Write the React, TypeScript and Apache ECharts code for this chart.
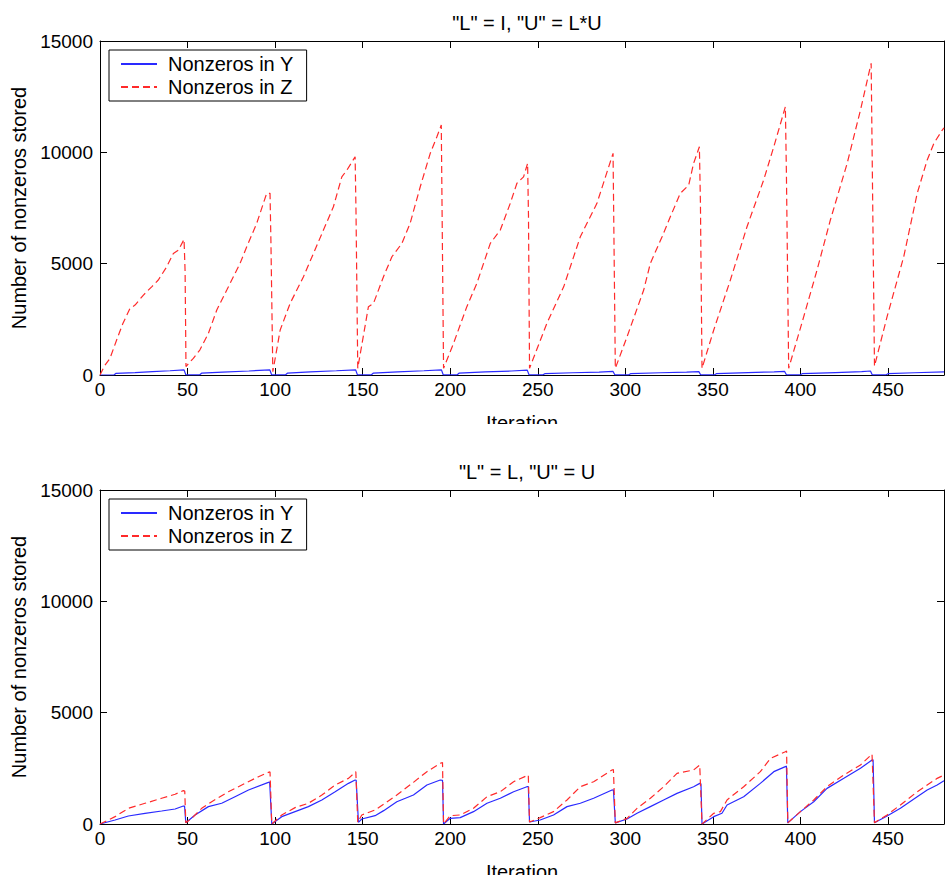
import React, { useEffect, useRef } from "react";
import * as echarts from "echarts";

const TITLES = ['"L" = I, "U" = L*U', '"L" = L, "U" = U'];
const SERIES_NAMES = ["Nonzeros in Y", "Nonzeros in Z"];
const X_LABEL = "Iteration";
const Y_LABEL = "Number of nonzeros stored";
const X_MAX = 482;
const Y_MAX = 15000;

// Top subplot: "L" = I, "U" = L*U  — [iteration, nonzeros]
const topY: number[][] = [
  [0, 0], [8, 0], [9, 70], [20, 110], [30, 150], [40, 190], [48, 230],
  [49, 10], [57, 10], [58, 80], [70, 130], [85, 180], [97, 230],
  [98, 10], [106, 10], [107, 80], [120, 140], [135, 190], [146, 230],
  [147, 10], [155, 10], [156, 80], [170, 140], [185, 190], [195, 230],
  [196, 10], [204, 10], [205, 80], [220, 140], [235, 180], [244, 220],
  [245, 10], [253, 10], [254, 60], [270, 100], [285, 130], [293, 160],
  [294, 10], [302, 10], [303, 60], [320, 100], [335, 130], [342, 150],
  [343, 10], [351, 10], [352, 60], [370, 110], [385, 140], [391, 160],
  [392, 10], [400, 10], [401, 60], [420, 110], [435, 150], [440, 180],
  [441, 10], [449, 10], [450, 60], [465, 100], [482, 140],
];

const topZ: number[][] = [
  [0, 0], [2.5, 400], [5.7, 750], [9.5, 1570], [13, 2300], [17.1, 2990], [20, 3140],
  [24.8, 3590], [29.5, 3960], [33.3, 4265], [38.1, 4860], [41.9, 5460], [44.8, 5610],
  [48, 6090], [48.6, 4650], [49.1, 380],
  [53.3, 750], [57, 1120], [61.9, 1870], [66.7, 2920], [72.4, 3815], [80, 5015],
  [83.8, 5760], [89.5, 6810], [95.2, 8160], [97.1, 8160], [97.6, 6060], [98.7, 150],
  [102.9, 2020], [108.6, 3220], [116.2, 4415], [121.9, 5460], [127.6, 6510],
  [133.3, 7555], [138.1, 8900], [141, 9200], [145.7, 9800], [146.2, 7330], [147.2, 300],
  [153.3, 3070], [156.2, 3220], [161.9, 4415], [166.7, 5310], [172.4, 5910],
  [177.1, 6810], [182.9, 8455], [188.6, 9955], [192.4, 10700], [194.9, 11225], [196.2, 300],
  [201.9, 1420], [209.5, 3070], [215.2, 4115], [222.9, 5910], [228.6, 6510],
  [234.3, 7710], [238.1, 8610], [241.9, 8900], [244.2, 9505], [244.7, 7180], [245.3, 300],
  [255.2, 2320], [264.8, 3960], [274.3, 6210], [283.8, 7710], [293, 9955], [294.3, 300],
  [301, 1720], [310.5, 3815], [314.3, 5015], [321, 6210], [325.7, 7105], [331.4, 8160],
  [336.2, 8530], [339, 9505], [342.3, 10250], [342.9, 7710], [343.8, 300],
  [350.5, 2020], [360, 4265], [369.5, 6660], [379, 8755], [384.8, 10250], [391.4, 12045],
  [392, 9070], [393.3, 300],
  [401.9, 2620], [409.5, 4715], [417.1, 6960], [426.7, 9505], [434.3, 11900], [440.4, 14000],
  [442.3, 400],
  [449.5, 2620], [459, 5310], [466.7, 8160], [472.4, 9655], [476.2, 10400], [481, 11000], [482, 11100],
];

// Bottom subplot: "L" = L, "U" = U
const botY: number[][] = [
  [0, 0], [8.6, 180], [16.2, 360], [25.7, 480], [35.2, 585], [42.9, 675], [47.6, 808], [48.3, 800],
  [49, 60], [54.3, 405], [61.9, 780], [69.5, 930], [77.1, 1225], [84.8, 1525], [96.2, 1870], [96.9, 1880],
  [98.1, 0], [103.8, 330], [111.4, 555], [119, 780], [126.7, 1080], [134.3, 1450], [141.9, 1825],
  [145.7, 1975], [146.3, 1960],
  [147.6, 75], [149.5, 225], [157.1, 375], [162, 600], [169.5, 1000], [179, 1300], [186.7, 1750],
  [194.3, 1975], [195.6, 1960],
  [196.2, 0], [200, 255], [205.7, 285], [213.3, 555], [221, 930], [228.6, 1155], [236.2, 1450],
  [243.8, 1675], [244.6, 1680],
  [245.3, 90], [251.4, 180], [259, 405], [266.7, 780], [274.3, 930], [281.9, 1155], [292.4, 1525],
  [293.2, 1540],
  [294.3, 50], [301, 225], [306.7, 480], [314.3, 780], [321.9, 1080], [329.5, 1375], [339, 1675],
  [342.5, 1825], [343.2, 1800],
  [343.8, 0], [350.5, 330], [355.2, 480], [358.1, 855], [367.6, 1225], [377.1, 1825], [384.8, 2350],
  [391.4, 2575], [392, 2600],
  [392.8, 50], [400, 555], [407.6, 1000], [415.2, 1600], [424.8, 2050], [434.3, 2500], [440.9, 2875],
  [441.5, 2880],
  [442.3, 60], [449.5, 360], [457.1, 705], [466.7, 1225], [472.4, 1525], [478.1, 1750], [482, 1945],
];

const botZ: number[][] = [
  [0, 0], [8.6, 330], [16.2, 705], [25.7, 930], [35.2, 1155], [42.9, 1335], [47.6, 1500], [48.4, 1480],
  [49, 60], [52.4, 255], [58.1, 705], [63.8, 1000], [73.3, 1450], [82.9, 1825], [90.5, 2125],
  [96.2, 2320], [97.1, 2340],
  [98.1, 0], [103.8, 405], [111.4, 735], [119, 930], [126.7, 1300], [134.3, 1750], [141.9, 2050],
  [146.1, 2350],
  [147.2, 75], [149.5, 405], [157.1, 630], [162, 885], [169.5, 1300], [179, 1870], [186.7, 2350],
  [194.3, 2725], [195.6, 2760],
  [196.2, 0], [200, 375], [205.7, 405], [213.3, 705], [221, 1225], [228.6, 1450], [236.2, 1900],
  [243.8, 2170], [244.6, 2200],
  [245.3, 90], [251.4, 285], [259, 555], [266.7, 1080], [274.3, 1675], [281.9, 1900], [292.4, 2425],
  [293.2, 2450],
  [294.3, 50], [301, 255], [306.7, 705], [314.3, 1155], [321.9, 1675], [329.5, 2275], [339, 2425],
  [342.5, 2650],
  [343.8, 0], [350.5, 480], [354.3, 555], [358.1, 1080], [367.6, 1675], [377.1, 2350], [382.9, 2950],
  [391.4, 3245], [392.1, 3280],
  [392.8, 50], [400, 555], [407.6, 1080], [415.2, 1675], [424.8, 2200], [434.3, 2650], [440.9, 3143],
  [442.3, 60], [449.5, 405], [457.1, 855], [466.7, 1450], [472.4, 1750], [478.1, 2050], [482, 2200],
];

const FONT = '"Liberation Sans", Arial, Helvetica, sans-serif';
const BLUE = "#2a2aff";
const RED = "#ff2a2a";

const GRID_TOPS = [41, 490];
const GRID_LEFT = 100;
const GRID_W = 844;
const GRID_H = 334;

export default function App() {
  const ref = useRef<HTMLDivElement>(null);

  useEffect(() => {
    if (!ref.current) return;
    const chart = echarts.init(ref.current, undefined, { renderer: "svg" });

    const axisLine = { show: true, onZero: false, lineStyle: { color: "#000", width: 1 } };
    const axisTick = { show: true, inside: true, length: 7, lineStyle: { color: "#000", width: 1 } };
    const labelStyle = { color: "#000", fontSize: 19, fontFamily: FONT };
    const nameStyle = { color: "#000", fontSize: 20, fontFamily: FONT };

    const grids: any[] = [];
    const xAxes: any[] = [];
    const yAxes: any[] = [];
    const titles: any[] = [];
    const legends: any[] = [];
    const series: any[] = [];
    const data = [
      [topY, topZ],
      [botY, botZ],
    ];

    GRID_TOPS.forEach((top, i) => {
      grids.push({
        left: GRID_LEFT, top, width: GRID_W, height: GRID_H,
        containLabel: false, outerBoundsMode: "none",
      });
      xAxes.push({
        gridIndex: i, type: "value", min: 0, max: X_MAX, interval: 50, position: "bottom",
        axisLine, axisTick,
        axisLabel: {
          ...labelStyle, margin: 5,
          formatter: (v: number) => (v % 50 === 0 ? String(v) : ""),
        },
        splitLine: { show: false },
        name: X_LABEL, nameLocation: "middle", nameGap: 38, nameTextStyle: nameStyle,
      });
      xAxes.push({
        gridIndex: i, type: "value", min: 0, max: X_MAX, interval: 50, position: "top",
        axisLine, axisTick, axisLabel: { show: false }, splitLine: { show: false },
      });
      yAxes.push({
        gridIndex: i, type: "value", min: 0, max: Y_MAX, interval: 5000, position: "left",
        axisLine, axisTick,
        axisLabel: { ...labelStyle, margin: 7, formatter: (v: number) => String(v) },
        splitLine: { show: false },
        name: Y_LABEL, nameLocation: "middle", nameGap: 71, nameTextStyle: nameStyle,
      });
      yAxes.push({
        gridIndex: i, type: "value", min: 0, max: Y_MAX, interval: 5000, position: "right",
        axisLine, axisTick, axisLabel: { show: false }, splitLine: { show: false },
      });
      titles.push({
        text: TITLES[i], left: GRID_LEFT + GRID_W / 2, top: top - 33, textAlign: "center",
        textStyle: { ...nameStyle, fontWeight: "normal" },
      });
      legends.push({
        data: SERIES_NAMES, left: 109, top: top + 9, orient: "vertical",
        borderColor: "#000", borderWidth: 1, borderRadius: 0, backgroundColor: "#fff",
        padding: [3, 13, 3, 11], itemGap: 1, itemWidth: 36, itemHeight: 14,
        selectedMode: false,
        itemStyle: { opacity: 0, borderWidth: 0 },
        textStyle: { ...nameStyle, padding: [0, 0, 0, 6], lineHeight: 22 },
      });
      const [ys, zs] = data[i];
      series.push({
        name: SERIES_NAMES[0], type: "line", xAxisIndex: i * 2, yAxisIndex: i * 2,
        data: ys, symbol: "none", showSymbol: false,
        lineStyle: { color: BLUE, width: 1.2, type: "solid" }, itemStyle: { color: BLUE },
      });
      series.push({
        name: SERIES_NAMES[1], type: "line", xAxisIndex: i * 2, yAxisIndex: i * 2,
        data: zs, symbol: "none", showSymbol: false,
        lineStyle: { color: RED, width: 1.2, type: [7, 4] }, itemStyle: { color: RED },
      });
    });

    chart.setOption({
      animation: false,
      backgroundColor: "#fff",
      title: titles,
      legend: legends,
      grid: grids,
      xAxis: xAxes,
      yAxis: yAxes,
      series,
      graphic: [
        {
          type: "rect", left: 300, top: 424, z: 100,
          shape: { width: 450, height: 24 }, style: { fill: "#fff" },
        },
      ],
    });

    return () => chart.dispose();
  }, []);

  return (
    <div
      ref={ref}
      style={{ position: "fixed", left: 0, top: 0, width: 945, height: 875, background: "#fff" }}
    />
  );
}
